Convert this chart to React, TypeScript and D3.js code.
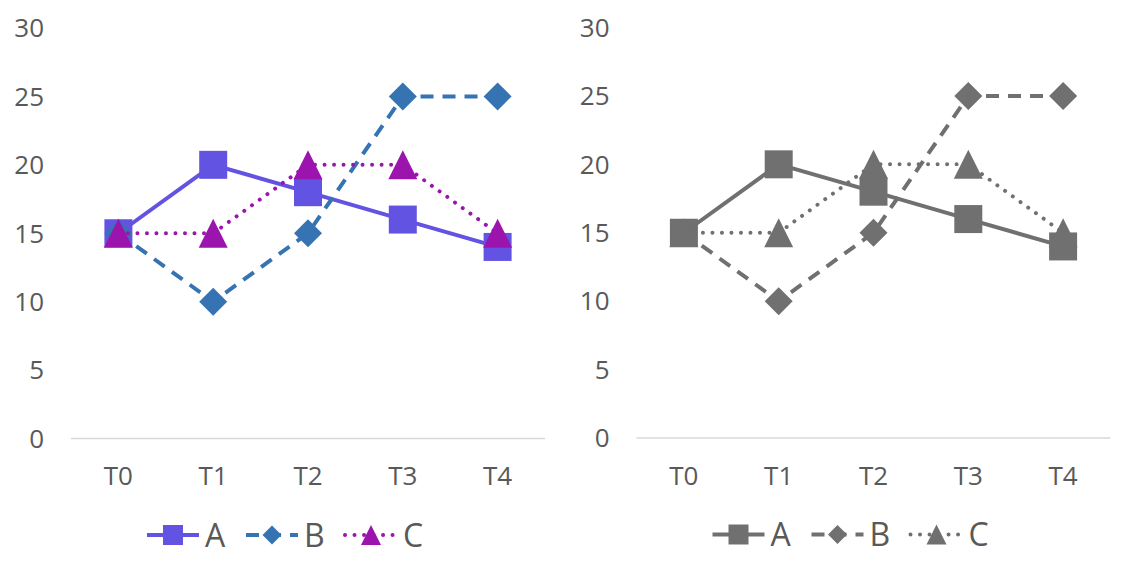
import * as React from 'react';
import {useEffect, useRef} from 'react';
import * as d3 from 'd3';

const categories = ['T0', 'T1', 'T2', 'T3', 'T4'];
const seriesNames = ['A', 'B', 'C'];
const valuesA = [15, 20, 18, 16, 14];
const valuesB = [15, 10, 15, 25, 25];
const valuesC = [15, 15, 20, 20, 15];
const yTicks = [0, 5, 10, 15, 20, 25, 30];

const colorPalette = ['#6353e2', '#3673b3', '#9b14ae'];
const grayPalette = ['#707070', '#707070', '#707070'];

const width = 1130;
const height = 578;
const font = '"Open Sans", sans-serif';
const textColor = '#595959';

// line style per series: solid, dash, round dot
const dashes = ['none', '13 9', '0.01 9.5'];
const caps = ['butt', 'butt', 'round'];

const triangle = {
  draw(ctx: any, size: number) {
    const s = Math.sqrt(size);
    ctx.moveTo(0, -s / 2);
    ctx.lineTo(s / 2, s / 2);
    ctx.lineTo(-s / 2, s / 2);
    ctx.closePath();
  }
};
const diamond = {
  draw(ctx: any, size: number) {
    const s = Math.sqrt(size) / 2;
    ctx.moveTo(0, -s);
    ctx.lineTo(s, 0);
    ctx.lineTo(0, s);
    ctx.lineTo(-s, 0);
    ctx.closePath();
  }
};
const shapes: any[] = [d3.symbolSquare, diamond, triangle];
const markerSides = [28, 28, 29];
const legendSides = [20, 19, 20];

const drawChart = (svg: any, palette: string[], dx: number, dy: number) => {
  const series = [valuesA, valuesB, valuesC];
  const g = svg.append('g').attr('transform', `translate(${dx},${dy})`);

  const x = d3.scaleBand().domain(categories).range([71, 545]);
  const y = d3.scaleLinear().domain([0, 30]).range([438.5, 28]);
  const cx = (c: string) => x(c)! + x.bandwidth() / 2;

  g.append('line')
    .attr('x1', x.range()[0]).attr('x2', x.range()[1])
    .attr('y1', y(0)).attr('y2', y(0))
    .attr('stroke', '#d9d9d9').attr('stroke-width', 1.5);

  g.append('g').selectAll('text')
    .data(yTicks)
    .join('text')
    .attr('x', 44)
    .attr('y', (d: number) => y(d) + 9.3)
    .attr('text-anchor', 'end')
    .style('font', `26px ${font}`)
    .attr('fill', textColor)
    .text((d: number) => d);

  g.append('g').selectAll('text')
    .data(categories)
    .join('text')
    .attr('x', cx)
    .attr('y', 485)
    .attr('text-anchor', 'middle')
    .style('font', `26px ${font}`)
    .attr('fill', textColor)
    .text((d: string) => d);

  series.forEach((vals, i) => {
    const line = d3.line<number>()
      .x((_, j) => cx(categories[j]))
      .y(d => y(d));
    g.append('path')
      .attr('d', line(vals))
      .attr('fill', 'none')
      .attr('stroke', palette[i])
      .attr('stroke-width', 4)
      .attr('stroke-dasharray', dashes[i])
      .attr('stroke-linecap', caps[i])
      .attr('stroke-linejoin', 'round');
    const sym = d3.symbol().type(shapes[i]).size(markerSides[i] * markerSides[i]);
    g.append('g').selectAll('path')
      .data(vals)
      .join('path')
      .attr('transform', (d: number, j: number) => `translate(${cx(categories[j])},${y(d)})`)
      .attr('d', sym())
      .attr('fill', palette[i]);
  });

  // legend
  const legend = g.append('g').attr('transform', 'translate(147,535)');
  seriesNames.forEach((name, i) => {
    const e = legend.append('g').attr('transform', `translate(${i * 99},0)`);
    e.append('line')
      .attr('x1', 0).attr('x2', 52).attr('y1', 0).attr('y2', 0)
      .attr('stroke', palette[i])
      .attr('stroke-width', 4)
      .attr('stroke-dasharray', dashes[i])
      .attr('stroke-linecap', caps[i]);
    e.append('path')
      .attr('transform', 'translate(26,0)')
      .attr('d', d3.symbol().type(shapes[i]).size(legendSides[i] * legendSides[i])())
      .attr('fill', palette[i]);
    e.append('text')
      .attr('x', 58)
      .attr('y', 11.5)
      .style('font', `32px ${font}`)
      .attr('fill', textColor)
      .text(name);
  });
};

const App = () => {
  const ref = useRef<SVGSVGElement>(null);
  useEffect(() => {
    const svg = d3.select(ref.current);
    svg.selectAll('*').remove();
    drawChart(svg, colorPalette, 0, 0);
    drawChart(svg, grayPalette, 565.5, -0.5);
  }, []);
  return (
    <svg
      ref={ref}
      width={width}
      height={height}
      style={{position: 'absolute', left: 0, top: 0, background: '#fff'}}
    />
  );
};

export default App;
